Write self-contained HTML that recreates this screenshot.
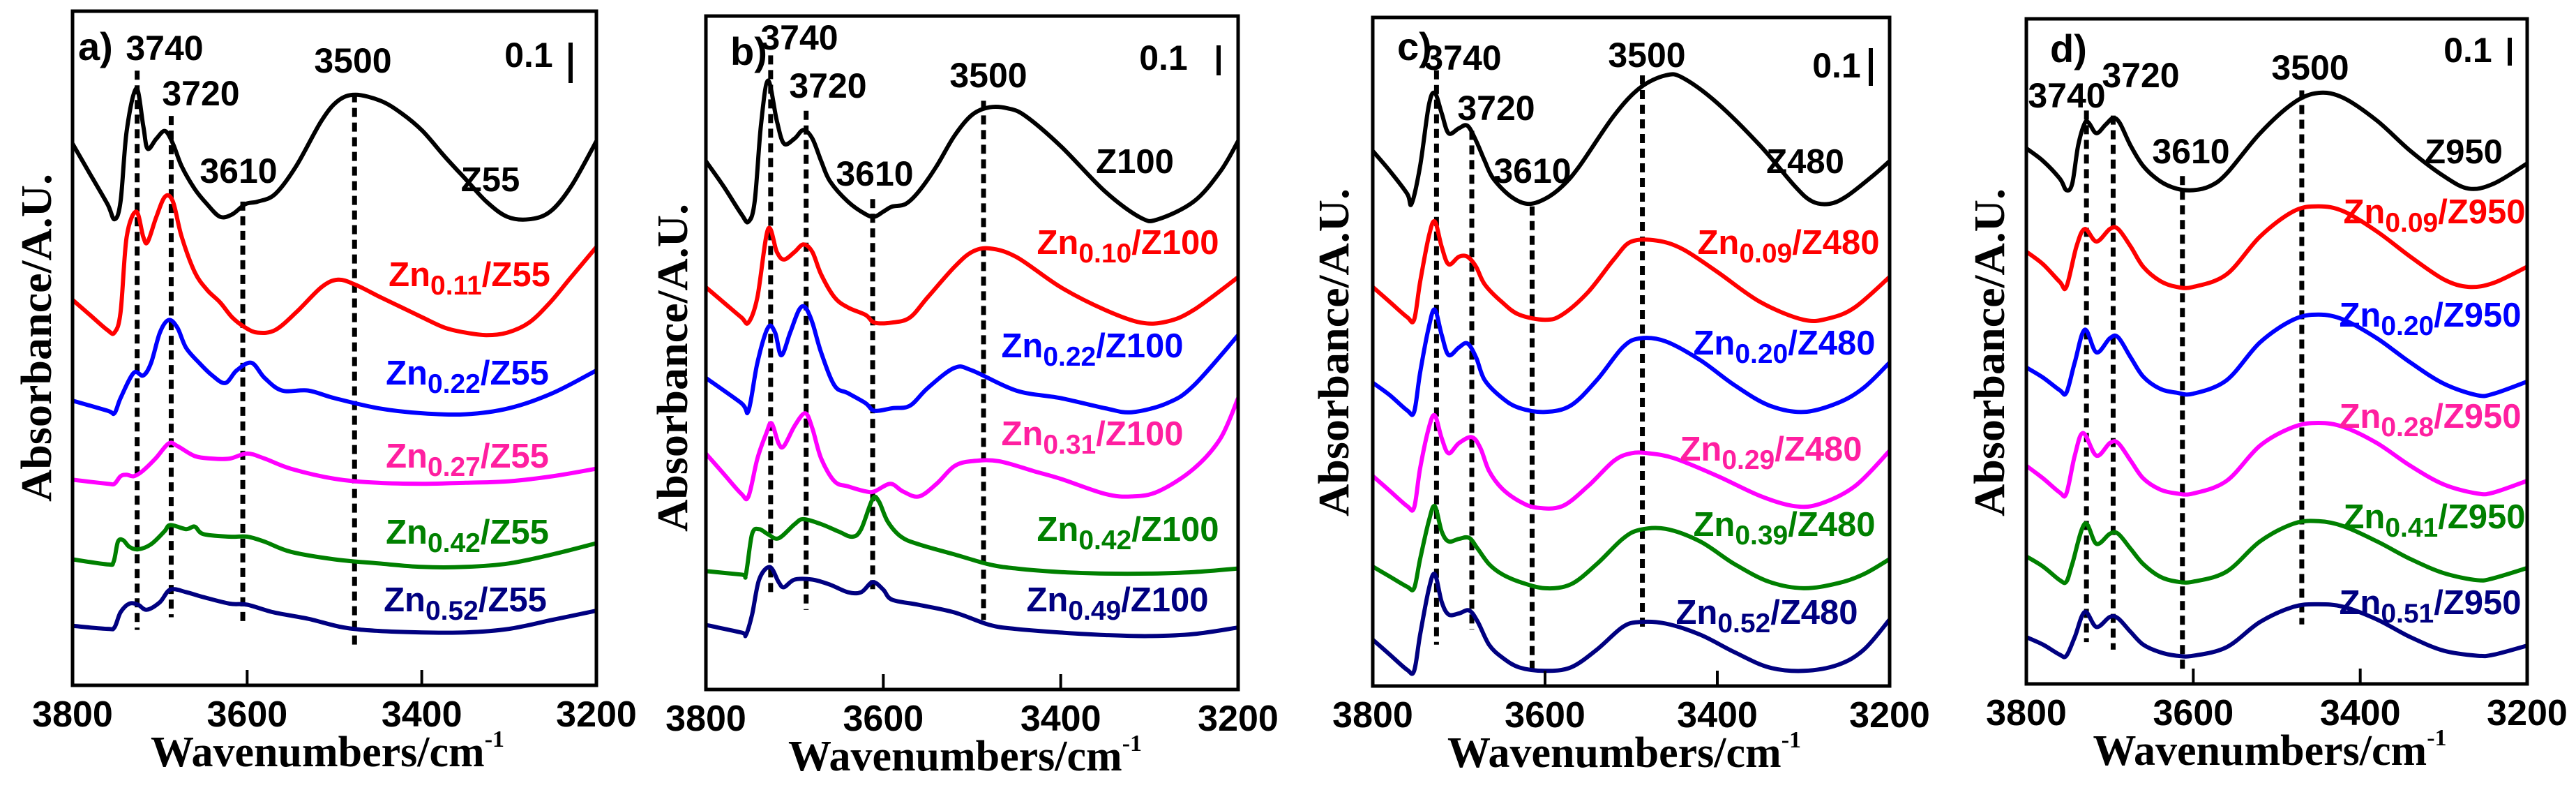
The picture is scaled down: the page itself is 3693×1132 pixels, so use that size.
<!DOCTYPE html>
<html><head><meta charset="utf-8"><style>
html,body{margin:0;padding:0;background:#fff;}
svg{display:block;}
</style></head><body>
<svg id="fig" width="3693" height="1132" viewBox="0 0 3693 1132" xmlns="http://www.w3.org/2000/svg"></svg>
<script>
// ---------- DATA (wavenumber cm^-1, absorbance a.u. with offsets) ----------
// Panel a
const aBlackWn=[3800,3780,3760,3752,3745,3738,3727,3719,3714,3704,3694,3685,3675,3660,3646,3631,3617,3602,3588,3568,3544,3515,3496,3476,3447,3423,3399,3374,3350,3326,3302,3277,3253,3229,3200];
const aBlackAbs=[1.115,1.055,0.995,0.965,1.0,1.14,1.225,1.15,1.105,1.125,1.14,1.115,1.07,1.025,0.995,0.97,0.975,0.995,1.0,1.015,1.07,1.16,1.2,1.212,1.2,1.175,1.14,1.09,1.045,1.0,0.97,0.965,0.98,1.03,1.12];
const aRedWn=[3800,3780,3760,3752,3745,3738,3727,3719,3714,3704,3694,3685,3675,3660,3646,3631,3617,3602,3588,3568,3544,3515,3496,3476,3447,3423,3399,3374,3350,3326,3302,3277,3253,3229,3200];
const aRedAbs=[0.805,0.775,0.745,0.74,0.78,0.93,0.98,0.93,0.92,0.97,1.01,1.0,0.93,0.86,0.825,0.8,0.77,0.75,0.74,0.745,0.78,0.83,0.845,0.835,0.81,0.79,0.77,0.75,0.74,0.735,0.74,0.76,0.8,0.85,0.91];
const aBlueWn=[3800,3760,3752,3745,3730,3719,3710,3700,3690,3680,3670,3655,3640,3625,3612,3595,3580,3560,3530,3500,3450,3400,3350,3300,3250,3200];
const aBlueAbs=[0.605,0.585,0.58,0.61,0.66,0.655,0.68,0.74,0.765,0.75,0.71,0.68,0.655,0.64,0.665,0.68,0.65,0.625,0.625,0.61,0.59,0.58,0.578,0.59,0.62,0.665];
const aMagWn=[3800,3760,3752,3745,3738,3730,3720,3705,3690,3680,3660,3640,3620,3600,3580,3550,3500,3450,3400,3350,3300,3250,3200];
const aMagAbs=[0.448,0.44,0.44,0.455,0.458,0.455,0.465,0.49,0.52,0.515,0.495,0.49,0.49,0.5,0.49,0.47,0.45,0.442,0.44,0.442,0.445,0.455,0.47];
const aGreenWn=[3800,3760,3753,3748,3742,3735,3725,3710,3695,3688,3670,3660,3650,3620,3600,3580,3550,3500,3450,3400,3350,3300,3250,3200];
const aGreenAbs=[0.29,0.28,0.285,0.325,0.328,0.315,0.31,0.32,0.345,0.358,0.35,0.355,0.34,0.335,0.335,0.325,0.305,0.29,0.282,0.275,0.275,0.282,0.3,0.322];
const aNavyWn=[3800,3760,3752,3745,3735,3725,3715,3700,3688,3670,3650,3620,3600,3570,3530,3490,3450,3400,3350,3300,3250,3200];
const aNavyAbs=[0.158,0.152,0.155,0.185,0.202,0.2,0.19,0.205,0.23,0.225,0.215,0.202,0.2,0.185,0.172,0.155,0.148,0.145,0.145,0.152,0.17,0.188];
const aDashWn=[3726,3687,3605,3477];
const aDashTop=[1.26,1.17,1.0,1.215];
const aDashBot=[0.15,0.175,0.16,0.115];
// Panel b
const bBlackWn=[3800,3780,3760,3752,3745,3738,3730,3720,3712,3700,3690,3680,3670,3660,3640,3620,3610,3600,3590,3575,3560,3540,3520,3500,3480,3460,3440,3400,3350,3310,3290,3250,3220,3200];
const bBlackAbs=[1.08,1.03,0.975,0.96,1.0,1.15,1.24,1.16,1.115,1.125,1.142,1.125,1.08,1.04,1.0,0.975,0.97,0.98,0.99,0.995,1.02,1.07,1.13,1.172,1.187,1.185,1.17,1.11,1.02,0.968,0.965,1.0,1.06,1.12];
const bRedWn=[3800,3780,3760,3752,3742,3730,3720,3712,3700,3690,3680,3670,3655,3640,3620,3610,3590,3570,3550,3520,3500,3480,3450,3400,3350,3310,3280,3250,3200];
const bRedAbs=[0.83,0.8,0.77,0.76,0.81,0.945,0.9,0.885,0.9,0.915,0.9,0.855,0.81,0.79,0.775,0.76,0.76,0.77,0.81,0.87,0.9,0.907,0.89,0.83,0.785,0.76,0.762,0.785,0.85];
const bBlueWn=[3800,3760,3752,3742,3730,3722,3715,3705,3695,3688,3680,3670,3655,3640,3620,3610,3590,3570,3550,3520,3500,3450,3400,3350,3320,3280,3250,3200];
const bBlueAbs=[0.65,0.6,0.585,0.68,0.75,0.74,0.695,0.74,0.785,0.79,0.76,0.7,0.635,0.62,0.6,0.585,0.59,0.595,0.63,0.67,0.665,0.625,0.61,0.59,0.582,0.6,0.635,0.735];
const bMagWn=[3800,3780,3760,3752,3742,3732,3726,3718,3712,3700,3688,3680,3670,3655,3640,3620,3610,3592,3578,3560,3540,3520,3500,3470,3430,3400,3350,3320,3290,3250,3220,3200];
const bMagAbs=[0.5,0.46,0.42,0.415,0.49,0.54,0.56,0.52,0.515,0.555,0.58,0.55,0.49,0.445,0.435,0.425,0.425,0.44,0.425,0.415,0.44,0.475,0.485,0.485,0.465,0.45,0.42,0.415,0.425,0.47,0.53,0.61];
const bGreenWn=[3800,3760,3755,3748,3740,3730,3718,3700,3690,3670,3650,3635,3625,3612,3605,3595,3580,3560,3520,3480,3450,3400,3350,3300,3250,3200];
const bGreenAbs=[0.267,0.26,0.26,0.34,0.35,0.34,0.332,0.36,0.37,0.36,0.345,0.335,0.35,0.41,0.405,0.365,0.335,0.32,0.3,0.28,0.272,0.265,0.262,0.262,0.265,0.272];
const bNavyWn=[3800,3760,3755,3748,3740,3728,3718,3712,3700,3680,3660,3640,3625,3612,3600,3590,3560,3520,3480,3450,3400,3350,3300,3250,3200];
const bNavyAbs=[0.16,0.145,0.14,0.18,0.25,0.275,0.245,0.235,0.25,0.25,0.24,0.225,0.225,0.245,0.23,0.21,0.2,0.185,0.16,0.152,0.145,0.14,0.138,0.142,0.155];
const bDashWn=[3727,3687,3612,3487];
const bDashTop=[1.29,1.18,1.005,1.2];
const bDashBot=[0.22,0.19,0.23,0.17];
// Panel c
const cBlackWn=[3800,3780,3760,3755,3745,3735,3728,3720,3712,3700,3690,3680,3670,3660,3640,3620,3600,3580,3560,3520,3490,3460,3440,3400,3350,3310,3290,3270,3250,3220,3200];
const cBlackAbs=[1.1,1.06,1.015,0.995,1.07,1.19,1.215,1.175,1.135,1.145,1.15,1.12,1.08,1.045,1.01,0.995,1.005,1.03,1.07,1.17,1.225,1.25,1.245,1.195,1.11,1.03,1.0,0.995,1.01,1.05,1.08];
const cRedWn=[3800,3780,3760,3752,3745,3735,3728,3720,3712,3700,3690,3680,3670,3650,3630,3600,3580,3550,3520,3500,3470,3440,3400,3350,3300,3270,3240,3200];
const cRedAbs=[0.83,0.8,0.77,0.765,0.84,0.93,0.96,0.91,0.875,0.89,0.89,0.87,0.835,0.8,0.775,0.765,0.775,0.82,0.885,0.92,0.922,0.905,0.86,0.8,0.765,0.768,0.79,0.85];
const cBlueWn=[3800,3780,3760,3752,3745,3735,3728,3720,3712,3700,3690,3680,3670,3650,3630,3600,3570,3540,3510,3490,3460,3420,3380,3340,3300,3260,3230,3200];
const cBlueAbs=[0.64,0.615,0.585,0.582,0.66,0.75,0.785,0.735,0.695,0.71,0.718,0.69,0.645,0.61,0.59,0.582,0.595,0.645,0.71,0.728,0.722,0.685,0.635,0.595,0.582,0.6,0.63,0.68];
const cMagWn=[3800,3780,3760,3752,3745,3735,3728,3720,3712,3700,3685,3675,3665,3650,3630,3610,3580,3550,3520,3500,3480,3450,3400,3350,3310,3280,3240,3200];
const cMagAbs=[0.455,0.425,0.395,0.392,0.47,0.55,0.575,0.53,0.5,0.52,0.532,0.51,0.465,0.43,0.405,0.392,0.395,0.435,0.485,0.5,0.5,0.49,0.455,0.415,0.395,0.4,0.435,0.505];
const cGreenWn=[3800,3780,3760,3752,3745,3735,3728,3720,3712,3700,3688,3678,3665,3650,3630,3600,3570,3540,3510,3490,3460,3420,3380,3340,3300,3260,3230,3200];
const cGreenAbs=[0.275,0.255,0.235,0.232,0.29,0.365,0.395,0.345,0.325,0.33,0.332,0.31,0.28,0.26,0.245,0.232,0.24,0.28,0.33,0.348,0.35,0.325,0.28,0.245,0.232,0.242,0.26,0.29];
const cNavyWn=[3800,3780,3760,3752,3745,3735,3728,3720,3712,3700,3688,3678,3665,3650,3630,3600,3570,3540,3510,3490,3460,3420,3380,3340,3300,3260,3230,3200];
const cNavyAbs=[0.13,0.1,0.07,0.068,0.14,0.23,0.26,0.205,0.18,0.182,0.188,0.165,0.12,0.095,0.075,0.068,0.075,0.11,0.155,0.165,0.162,0.14,0.105,0.075,0.068,0.08,0.11,0.17];
const cDashWn=[3726,3685,3615,3487];
const cDashTop=[1.26,1.14,0.99,1.25];
const cDashBot=[0.12,0.15,0.06,0.15];
// Panel d
const dBlackWn=[3800,3780,3760,3752,3745,3738,3730,3725,3716,3705,3696,3688,3675,3660,3640,3620,3600,3580,3560,3520,3480,3450,3420,3380,3340,3300,3270,3240,3200];
const dBlackAbs=[1.105,1.08,1.045,1.022,1.035,1.11,1.155,1.155,1.135,1.152,1.165,1.155,1.11,1.07,1.04,1.025,1.022,1.03,1.055,1.135,1.195,1.215,1.205,1.16,1.1,1.05,1.025,1.035,1.075];
const dRedWn=[3800,3780,3760,3752,3740,3730,3716,3700,3690,3675,3660,3640,3620,3600,3560,3520,3480,3450,3420,3380,3340,3300,3270,3240,3200];
const dRedAbs=[0.9,0.875,0.84,0.83,0.91,0.945,0.92,0.945,0.945,0.91,0.87,0.842,0.83,0.83,0.855,0.93,0.98,0.99,0.98,0.94,0.89,0.845,0.83,0.838,0.87];
const dBlueWn=[3800,3780,3760,3752,3742,3730,3716,3700,3690,3675,3660,3640,3620,3600,3560,3520,3480,3450,3420,3380,3340,3300,3260,3240,3200];
const dBlueAbs=[0.67,0.65,0.625,0.62,0.68,0.745,0.7,0.728,0.73,0.69,0.652,0.628,0.62,0.618,0.645,0.72,0.765,0.775,0.765,0.728,0.68,0.638,0.615,0.618,0.642];
const dMagWn=[3800,3780,3760,3752,3742,3732,3716,3700,3690,3675,3660,3640,3620,3600,3560,3520,3480,3450,3420,3380,3340,3300,3260,3240,3200];
const dMagAbs=[0.475,0.45,0.422,0.42,0.495,0.54,0.495,0.52,0.52,0.485,0.45,0.428,0.42,0.42,0.445,0.515,0.552,0.56,0.552,0.52,0.475,0.438,0.42,0.422,0.445];
const dGreenWn=[3800,3780,3760,3752,3745,3730,3716,3700,3690,3675,3660,3640,3620,3600,3560,3520,3480,3450,3420,3380,3340,3300,3260,3240,3200];
const dGreenAbs=[0.295,0.275,0.248,0.245,0.28,0.36,0.32,0.34,0.34,0.31,0.28,0.255,0.245,0.245,0.265,0.325,0.36,0.365,0.355,0.325,0.29,0.262,0.248,0.252,0.272];
const dNavyWn=[3800,3780,3760,3752,3742,3730,3716,3700,3690,3675,3660,3640,3620,3600,3560,3520,3480,3450,3420,3380,3340,3300,3260,3240,3200];
const dNavyAbs=[0.135,0.12,0.1,0.098,0.135,0.185,0.155,0.175,0.172,0.145,0.12,0.105,0.098,0.098,0.115,0.165,0.195,0.2,0.195,0.17,0.135,0.108,0.098,0.1,0.118];
const dDashWn=[3728,3696,3613,3470];
const dDashTop=[1.18,1.17,1.05,1.22];
const dDashBot=[0.125,0.11,0.065,0.16];

const xTicks=[3800,3600,3400,3200];
const xTickLabels=["3800","3600","3400","3200"];
const peakNames=["3740","3720","3610","3500"];

// ---------- LAYOUT ----------
const NS="http://www.w3.org/2000/svg";
const svg=document.getElementById('fig');
function mk(tag,attrs,parent){const e=document.createElementNS(NS,tag);for(const k in attrs)e.setAttribute(k,attrs[k]);(parent||svg).appendChild(e);return e;}

const C={black:"#000",red:"#ff0000",blue:"#0000ff",mag:"#ff00ff",magLbl:"#ff1fa0",green:"#008000",navy:"#000080"};

const panels=[
 {id:"a",L:104,R:855,T:16,B:982,dom:[0.04,1.378],tag:"a)",tagXY:[112,86],
  series:[[aBlackWn,aBlackAbs,C.black,"","Z55",[703,274]],[aRedWn,aRedAbs,C.red,"0.11","/Z55",[673,410]],[aBlueWn,aBlueAbs,C.blue,"0.22","/Z55",[670,551]],[aMagWn,aMagAbs,C.mag,"0.27","/Z55",[670,670]],[aGreenWn,aGreenAbs,C.green,"0.42","/Z55",[670,779]],[aNavyWn,aNavyAbs,C.navy,"0.52","/Z55",[667,876]]],
  dash:[aDashWn,aDashTop,aDashBot],peaks:[[236,86],[288,151],[342,262],[506,104]],scale:[758,96,818,61,119],ylab:[52,484]},
 {id:"b",L:1012,R:1775,T:23,B:988,dom:[0.032,1.368],tag:"b)",tagXY:[1047,93],
  series:[[bBlackWn,bBlackAbs,C.black,"","Z100",[1627,248]],[bRedWn,bRedAbs,C.red,"0.10","/Z100",[1617,364]],[bBlueWn,bBlueAbs,C.blue,"0.22","/Z100",[1566,512]],[bMagWn,bMagAbs,C.mag,"0.31","/Z100",[1566,638]],[bGreenWn,bGreenAbs,C.green,"0.42","/Z100",[1617,775]],[bNavyWn,bNavyAbs,C.navy,"0.49","/Z100",[1602,876]]],
  dash:[bDashWn,bDashTop,bDashBot],peaks:[[1146,71],[1187,140],[1254,266],[1417,125]],scale:[1668,100,1747,65,108],ylab:[964,527]},
 {id:"c",L:1968,R:2709,T:25,B:983,dom:[0.038,1.365],tag:"c)",tagXY:[2003,86],
  series:[[cBlackWn,cBlackAbs,C.black,"","Z480",[2588,248]],[cRedWn,cRedAbs,C.red,"0.09","/Z480",[2564,364]],[cBlueWn,cBlueAbs,C.blue,"0.20","/Z480",[2558,508]],[cMagWn,cMagAbs,C.mag,"0.29","/Z480",[2539,660]],[cGreenWn,cGreenAbs,C.green,"0.39","/Z480",[2558,768]],[cNavyWn,cNavyAbs,C.navy,"0.52","/Z480",[2533,894]]],
  dash:[cDashWn,cDashTop,cDashBot],peaks:[[2097,100],[2145,172],[2197,262],[2361,96]],scale:[2633,111,2682,69,123],ylab:[1912,505]},
 {id:"d",L:2905,R:3623,T:27,B:980,dom:[0.042,1.362],tag:"d)",tagXY:[2939,89],
  series:[[dBlackWn,dBlackAbs,C.black,"","Z950",[3532,234]],[dRedWn,dRedAbs,C.red,"0.09","/Z950",[3490,320]],[dBlueWn,dBlueAbs,C.blue,"0.20","/Z950",[3484,468]],[dMagWn,dMagAbs,C.mag,"0.28","/Z950",[3484,613]],[dGreenWn,dGreenAbs,C.green,"0.41","/Z950",[3490,757]],[dNavyWn,dNavyAbs,C.navy,"0.51","/Z950",[3484,880]]],
  dash:[dDashWn,dDashTop,dDashBot],peaks:[[2963,154],[3069,125],[3141,234],[3312,114]],scale:[3538,89,3598,54,94],ylab:[2852,505]}
];

function smoothPath(pts){
  let d="M"+pts[0][0].toFixed(1)+","+pts[0][1].toFixed(1);
  for(let i=0;i<pts.length-1;i++){
    const p0=pts[i-1]||pts[i],p1=pts[i],p2=pts[i+1],p3=pts[i+2]||p2;
    const c1=[p1[0]+(p2[0]-p0[0])/6,p1[1]+(p2[1]-p0[1])/6];
    const c2=[p2[0]-(p3[0]-p1[0])/6,p2[1]-(p3[1]-p1[1])/6];
    d+="C"+c1[0].toFixed(1)+","+c1[1].toFixed(1)+" "+c2[0].toFixed(1)+","+c2[1].toFixed(1)+" "+p2[0].toFixed(1)+","+p2[1].toFixed(1);
  }
  return d;
}

panels.forEach(p=>{
  const g=mk('g',{});
  
  
  const xs=w=>p.L+(3800-w)/600*(p.R-p.L);
  const ys=a=>p.B-(a-p.dom[0])/(p.dom[1]-p.dom[0])*(p.B-p.T);
  p.dash[0].forEach((w,i)=>{
    const l=mk('line',{x1:xs(w),x2:xs(w),y1:ys(p.dash[1][i]),y2:ys(p.dash[2][i]),stroke:"#000","stroke-width":7,"stroke-dasharray":"13 8"},g);
    
    
  });
  p.series.forEach((s,si)=>{
    const pts=s[0].map((w,i)=>[xs(w),ys(s[1][i])]);
    const path=mk('path',{d:smoothPath(pts),fill:"none",stroke:s[2],"stroke-width":6,"stroke-linejoin":"round"},g);
    
    
    const t=mk('text',{x:s[5][0],y:s[5][1],"text-anchor":"middle","font-family":"Liberation Sans, Arial, sans-serif","font-weight":"bold","font-size":49,fill:s[2]===C.mag?C.magLbl:s[2]},g);
    
    
    if(s[3]){
      const t1=mk('tspan',{},t);t1.textContent="Zn";
      const t2=mk('tspan',{dy:12,"font-size":39},t);t2.textContent=s[3];
      const t3=mk('tspan',{dy:-12},t);t3.textContent=s[4];
    } else t.textContent=s[4];
  });
  const fr=mk('rect',{x:p.L,y:p.T,width:p.R-p.L,height:p.B-p.T,fill:"none",stroke:"#000","stroke-width":5},g);
  
  
  xTicks.forEach((w,i)=>{
    const tk=mk('line',{x1:xs(w),x2:xs(w),y1:p.B,y2:p.B-22,stroke:"#000","stroke-width":4},g);
    
    
    const tl=mk('text',{x:xs(w),y:p.B+59,"text-anchor":"middle","font-family":"Liberation Sans, Arial, sans-serif","font-weight":"bold","font-size":52},g);
    
    
    tl.textContent=xTickLabels[i];
  });
  const xl=mk('text',{x:(p.L+p.R)/2-10,y:p.B+116,"text-anchor":"middle","font-family":"Liberation Serif, Times New Roman, serif","font-weight":"bold","font-size":62},g);
  
  
  const x1=mk('tspan',{},xl);x1.textContent="Wavenumbers/cm";
  const x2=mk('tspan',{dy:-28,"font-size":34},xl);x2.textContent="-1";
  const yl=mk('text',{x:0,y:0,"text-anchor":"middle","font-family":"Liberation Serif, Times New Roman, serif","font-weight":"bold","font-size":62,transform:"translate("+(p.ylab[0]+21)+","+p.ylab[1]+") rotate(-90)",textLength:470,lengthAdjust:"spacingAndGlyphs"},g);
  
  
  yl.textContent="Absorbance/A.U.";
  const tg=mk('text',{x:p.tagXY[0],y:p.tagXY[1],"font-family":"Liberation Sans, Arial, sans-serif","font-weight":"bold","font-size":56},g);
  
  
  tg.textContent=p.tag;
  p.peaks.forEach((pk,i)=>{
    const t=mk('text',{x:pk[0],y:pk[1],"text-anchor":"middle","font-family":"Liberation Sans, Arial, sans-serif","font-weight":"bold","font-size":50},g);
    
    
    t.textContent=peakNames[i];
  });
  const sc=mk('text',{x:p.scale[0],y:p.scale[1],"text-anchor":"middle","font-family":"Liberation Sans, Arial, sans-serif","font-weight":"bold","font-size":50},g);
  
  
  sc.textContent="0.1";
  const sb=mk('line',{x1:p.scale[2],x2:p.scale[2],y1:p.scale[3],y2:p.scale[4],stroke:"#000","stroke-width":6},g);
  
  
});
</script>
</body></html>
